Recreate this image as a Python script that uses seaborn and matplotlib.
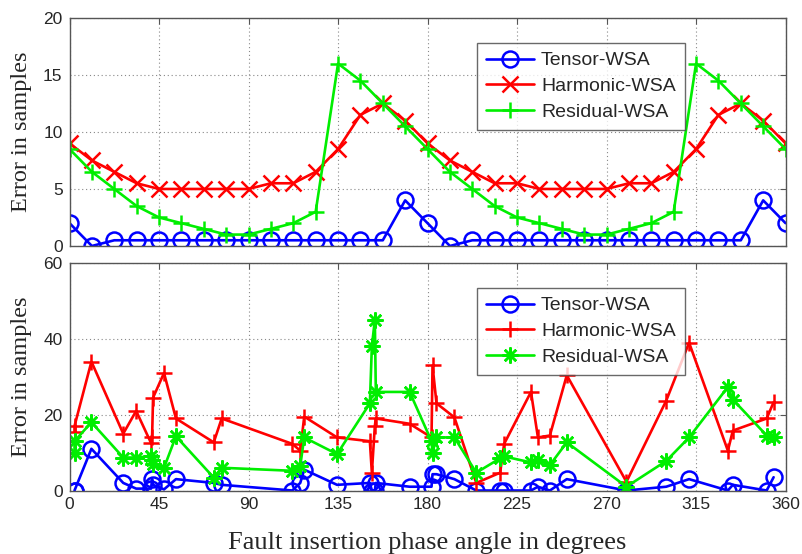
import matplotlib
matplotlib.use("Agg")
import matplotlib.pyplot as plt
import seaborn as sns
import pandas as pd

# ---- upper panel: errors at regularly spaced insertion angles ----
angles_top = [0, 11.25, 22.5, 33.75, 45, 56.25, 67.5, 78.75, 90, 101.25, 112.5,
              123.75, 135, 146.25, 157.5, 168.75, 180, 191.25, 202.5, 213.75,
              225, 236.25, 247.5, 258.75, 270, 281.25, 292.5, 303.75, 315,
              326.25, 337.5, 348.75, 360]
tensor_top = [2, 0, 0.5, 0.5, 0.5, 0.5, 0.5, 0.5, 0.5, 0.5, 0.5, 0.5, 0.5, 0.5,
              0.5, 4, 2, 0, 0.5, 0.5, 0.5, 0.5, 0.5, 0.5, 0.5, 0.5, 0.5, 0.5,
              0.5, 0.5, 0.5, 4, 2]
harmonic_top = [9, 7.5, 6.5, 5.5, 5, 5, 5, 5, 5, 5.5, 5.5, 6.5, 8.5, 11.5, 12.5,
                11, 9, 7.5, 6.5, 5.5, 5.5, 5, 5, 5, 5, 5.5, 5.5, 6.5, 8.5, 11.5,
                12.5, 11, 9]
residual_top = [8.5, 6.5, 5, 3.5, 2.5, 2, 1.5, 1, 1, 1.5, 2, 3, 16, 14.5, 12.5,
                10.5, 8.5, 6.5, 5, 3.5, 2.5, 2, 1.5, 1, 1, 1.5, 2, 3, 16, 14.5,
                12.5, 10.5, 8.5]

# ---- lower panel: errors for irregular fault cases ----
angles_bot = [2.5, 2.5, 11, 27, 33.5, 41, 41.5, 42, 47.5, 53.5, 72.5, 76.5,
              112, 116, 118, 134.5, 151, 152, 153.5, 154, 171, 182, 182.5,
              184.5, 193.5, 204.5, 216.5, 218.5, 232, 235.5, 241.5, 250, 280,
              300, 311.5, 331, 333.5, 350.5, 354]
tensor_bot = [0, 0, 11, 2, 0.5, 0.5, 3, 1.5, 0.3, 3, 2, 1.5, 0, 2, 5.5, 1.5, 2,
              0, 0, 2, 1, 1, 4.3, 4.3, 3, 0, 0, 0, 0, 1, 0, 3, 0, 1, 3, 0, 1.5,
              0, 3.5]
harmonic_bot = [15.5, 17, 34, 15, 21, 12.5, 14, 24.5, 31, 19, 12.7, 19, 12.3,
                10.5, 19.5, 14, 13, 4.7, 17, 19, 17.6, 14, 33, 23, 19.3, 2, 4.7,
                12.3, 26, 14, 14.5, 30.4, 2.3, 23.7, 39, 10.5, 15.8, 19, 23.3]
residual_bot = [10, 13, 18, 8.7, 8.7, 9, 8, 7, 6, 14.3, 3.4, 6, 5.2, 6.5, 14,
                9.6, 23, 38, 45, 26, 26, 13, 10, 14, 14, 4.7, 8.5, 9, 7.4, 8,
                6.7, 12.7, 1, 7.8, 14, 27.3, 24, 14.5, 14]

series_names = ["Tensor-WSA", "Harmonic-WSA", "Residual-WSA"]
x_ticks = [0, 45, 90, 135, 180, 225, 270, 315, 360]
y_ticks_top = [0, 5, 10, 15, 20]
y_ticks_bot = [0, 20, 40, 60]

BLUE, RED, GREEN = "#0000ff", "#ff0000", "#00ee00"

sns.set_style("white")
plt.rcParams["font.family"] = ["Liberation Sans", "DejaVu Sans"]

fig = plt.figure(figsize=(8.02, 5.54), dpi=100)
ax_top = fig.add_axes([0.0867, 0.5560, 0.8928, 0.4116])
ax_bot = fig.add_axes([0.0867, 0.1146, 0.8928, 0.4106])

top_df = pd.DataFrame({"angle": angles_top, "t": tensor_top,
                       "h": harmonic_top, "r": residual_top})
bot_df = pd.DataFrame({"angle": angles_bot, "t": tensor_bot,
                       "h": harmonic_bot, "r": residual_bot})

lw = 1.9
ms = 11.5
asterisk = (8, 2, 0)

def draw(ax, df, markers):
    for col, name, color, mk in zip(["t", "h", "r"], series_names,
                                    [BLUE, RED, GREEN], markers):
        kw = dict(mfc="none") if mk == "o" else {}
        sns.lineplot(data=df, x="angle", y=col, ax=ax, color=color, lw=lw,
                     marker=mk, markersize=ms, mec=color, mew=1.8,
                     sort=False, estimator=None, label=name, **kw)

draw(ax_top, top_df, ["o", "x", "+"])
draw(ax_bot, bot_df, ["o", "+", asterisk])

for ax, yt in [(ax_top, y_ticks_top), (ax_bot, y_ticks_bot)]:
    ax.set_xlim(0, 360)
    ax.set_ylim(yt[0], yt[-1])
    ax.set_xticks(x_ticks)
    ax.set_yticks(yt)
    ax.grid(True, linestyle=(0, (1, 2.5)), color="#888888", lw=0.8)
    for sp in ax.spines.values():
        sp.set_color("#555555")
        sp.set_linewidth(1.0)
    ax.tick_params(direction="in", length=4, color="#555555", labelsize=12.5,
                   top=True, right=True, pad=5)
    ax.set_ylabel("Error in samples", family="Liberation Serif", fontsize=17.5,
                  labelpad=8)
    ax.set_xlabel("")
    leg = ax.legend(loc="upper left", bbox_to_anchor=(0.569, 0.89),
                    fontsize=14, frameon=True, fancybox=False,
                    handlelength=2.5, labelspacing=0.42, borderpad=0.45,
                    handletextpad=0.35, borderaxespad=0)
    leg.get_frame().set_edgecolor("#444444")
    leg.get_frame().set_linewidth(1.0)

ax_top.tick_params(labelbottom=False)
ax_bot.set_xlabel("Fault insertion phase angle in degrees",
                  family="Liberation Serif", fontsize=19, labelpad=14)

fig.savefig("out.png", dpi=100)
